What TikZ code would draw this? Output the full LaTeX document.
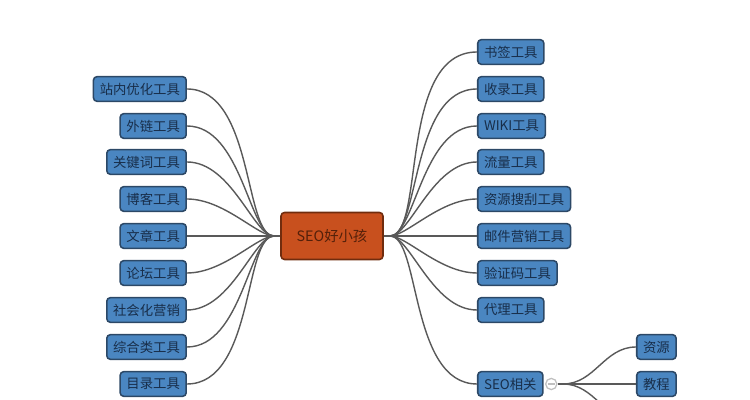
\documentclass[tikz,border=0pt]{standalone}
\usepackage{fontspec}
\setmainfont{Noto Sans CJK SC}
\usetikzlibrary{positioning}
\usepackage{xcolor}

\begin{document}
\begin{tikzpicture}[
      font=\fontsize{9.5pt}{11pt}\selectfont,
      topic/.style={
        draw={rgb,255:red,44;green,72;blue,102},
        fill={rgb,255:red,74;green,134;blue,193},
        text={rgb,255:red,24;green,46;blue,74},
        rounded corners=2.5pt,
        minimum height=17.5pt,
        inner xsep=4.5pt,
        inner ysep=0pt,
        line width=1.1pt
      },
      lefttopic/.style={topic, anchor=east},
      righttopic/.style={topic, anchor=west},
      root/.style={
        draw={rgb,255:red,112;green,44;blue,14},
        fill={rgb,255:red,200;green,80;blue,30},
        text={rgb,255:red,84;green,32;blue,10},
        font=\fontsize{10.2pt}{12pt}\selectfont,
        rounded corners=2.5pt,
        minimum width=2.55cm,
        minimum height=1.175cm,
        line width=1.1pt
      },
      branch/.style={draw=black!65, line width=1pt},
      lbranch/.style={out=0, in=180, out looseness=1, in looseness=0.45},
      rbranch/.style={out=0, in=180, out looseness=0.45, in looseness=1},
      toggle/.style={circle, draw=black!25, fill=white, minimum size=0.28cm, inner sep=0pt, line width=0.9pt}
    ]

    \useasboundingbox (-8.3,-4.1) rectangle (10.45,5.9);
    \clip (-8.3,-4.1) rectangle (10.45,5.9);

    % Central topic
    \node[root] (seo) at (0,0) {SEO好小孩};
    \coordinate (hubL) at (-1.45,0);
    \coordinate (hubR) at (1.45,0);

    % Left topics
    \node[lefttopic] (zhannei) at (-3.625,3.675) {站内优化工具};
    \node[lefttopic] (wailian) at (-3.625,2.75) {外链工具};
    \node[lefttopic] (guanjianci) at (-3.625,1.85) {关键词工具};
    \node[lefttopic] (boke) at (-3.625,0.925) {博客工具};
    \node[lefttopic] (wenzhang) at (-3.625,0) {文章工具};
    \node[lefttopic] (luntan) at (-3.625,-0.925) {论坛工具};
    \node[lefttopic] (shehui) at (-3.625,-1.85) {社会化营销};
    \node[lefttopic] (zonghe) at (-3.625,-2.775) {综合类工具};
    \node[lefttopic] (mulu) at (-3.625,-3.7) {目录工具};

    % Right topics
    \node[righttopic] (shuqian) at (3.625,4.6) {书签工具};
    \node[righttopic] (shoulu) at (3.625,3.675) {收录工具};
    \node[righttopic] (wiki) at (3.625,2.75) {WIKI工具};
    \node[righttopic] (liuliang) at (3.625,1.85) {流量工具};
    \node[righttopic] (ziyuan) at (3.625,0.925) {资源搜刮工具};
    \node[righttopic] (youjian) at (3.625,0) {邮件营销工具};
    \node[righttopic] (yanzheng) at (3.625,-0.925) {验证码工具};
    \node[righttopic] (daili) at (3.625,-1.85) {代理工具};
    \node[righttopic] (seorelated) at (3.625,-3.7) {SEO相关};

    % Sub topics of SEO相关
    \node[toggle, right=1pt of seorelated] (fold) {};
    \coordinate (hubS) at (5.775,-3.7);
    \node[righttopic] (Sziyuan) at (7.6,-2.775) {资源};
    \node[righttopic] (Sjiaocheng) at (7.6,-3.7) {教程};
    \coordinate (Smore) at (7.6,-4.625);

    % Left branches
    \draw[branch] (seo.west) -- (hubL);
    \draw[branch] (zhannei.east) to[lbranch] (hubL);
    \draw[branch] (wailian.east) to[lbranch] (hubL);
    \draw[branch] (guanjianci.east) to[lbranch] (hubL);
    \draw[branch] (boke.east) to[lbranch] (hubL);
    \draw[branch] (wenzhang.east) to[lbranch] (hubL);
    \draw[branch] (luntan.east) to[lbranch] (hubL);
    \draw[branch] (shehui.east) to[lbranch] (hubL);
    \draw[branch] (zonghe.east) to[lbranch] (hubL);
    \draw[branch] (mulu.east) to[lbranch] (hubL);

    % Right branches
    \draw[branch] (seo.east) -- (hubR);
    \draw[branch] (hubR) to[rbranch] (shuqian.west);
    \draw[branch] (hubR) to[rbranch] (shoulu.west);
    \draw[branch] (hubR) to[rbranch] (wiki.west);
    \draw[branch] (hubR) to[rbranch] (liuliang.west);
    \draw[branch] (hubR) to[rbranch] (ziyuan.west);
    \draw[branch] (hubR) to[rbranch] (youjian.west);
    \draw[branch] (hubR) to[rbranch] (yanzheng.west);
    \draw[branch] (hubR) to[rbranch] (daili.west);
    \draw[branch] (hubR) to[rbranch] (seorelated.west);

    % Sub branches
    \draw[branch] (fold.east) -- (hubS);
    \draw[branch] (hubS) to[out=0, in=180] (Sziyuan.west);
    \draw[branch] (hubS) -- (Sjiaocheng.west);
    \draw[branch] (hubS) to[out=0, in=180] (Smore);
    \draw[black!25, line width=0.9pt] ([xshift=1.8pt]fold.west) -- ([xshift=-1.8pt]fold.east);

  \end{tikzpicture}
\end{document}
